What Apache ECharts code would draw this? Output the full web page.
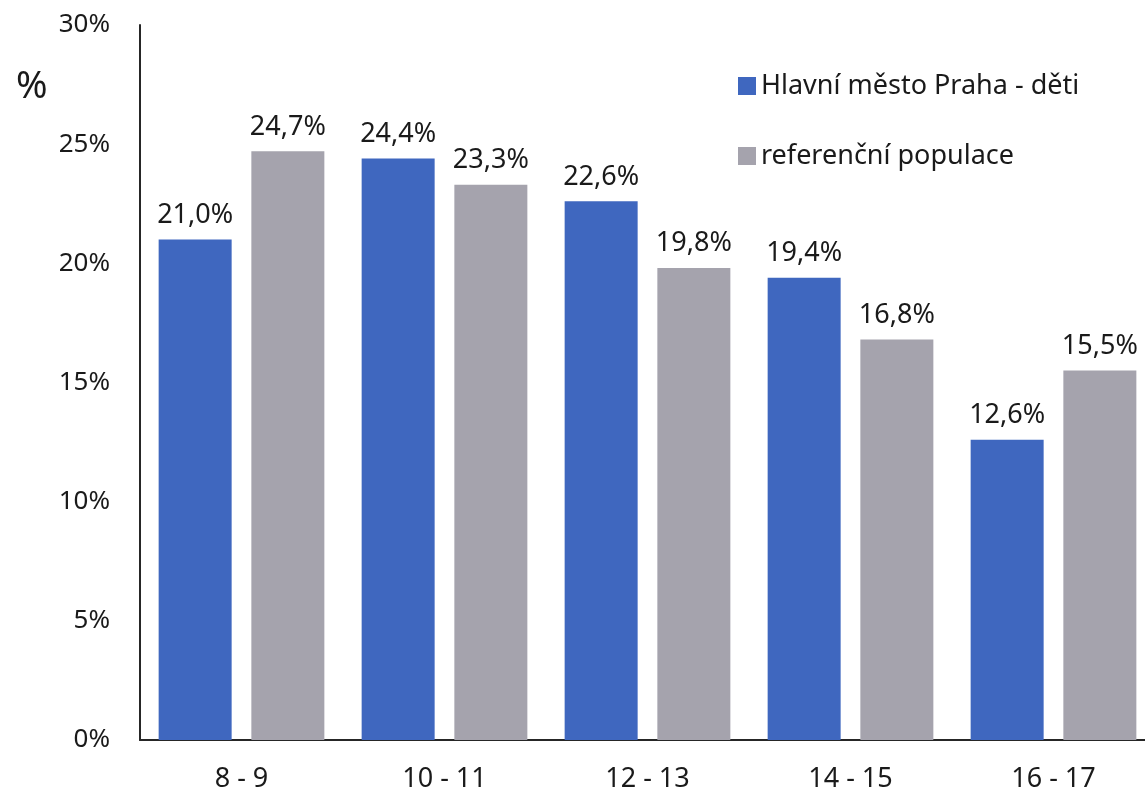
<!DOCTYPE html>
<html>
<head>
<meta charset="utf-8">
<script src="https://cdn.jsdelivr.net/npm/echarts@6/dist/echarts.min.js"></script>
<style>
  html, body { margin: 0; padding: 0; background: #fff; }
  #chart { width: 1145px; height: 794px; }
</style>
</head>
<body>
<div id="chart"></div>
<script>
// data
const categories = ['8 - 9', '10 - 11', '12 - 13', '14 - 15', '16 - 17'];
const prahaDeti = [21.0, 24.4, 22.6, 19.4, 12.6];
const referencni = [24.7, 23.3, 19.8, 16.8, 15.5];
const seriesNames = ['Hlavní město Praha - děti', 'referenční populace'];

const font = '"Noto Sans", "Open Sans", sans-serif';
const fmt = v => v.toFixed(1).replace('.', ',') + '%';

const myChart = echarts.init(document.getElementById('chart'));

const option = {
  animation: false,
  textStyle: { fontFamily: font },
  // plot is wider than the canvas, the last category is cut at the right edge
  grid: { left: 140, width: 1015, top: 25, bottom: 54, containLabel: false, outerBoundsMode: 'none' },
  graphic: [{
    type: 'text', left: 16, top: 68,
    style: { text: '%', fontSize: 38, fill: '#1a1a1a', fontFamily: font }
  }],
  legend: {
    orient: 'vertical',
    left: 733, top: 67,
    itemWidth: 18, itemHeight: 18, itemGap: 42,
    icon: 'rect',
    textStyle: { fontSize: 27, lineHeight: 28, color: '#1a1a1a', fontFamily: font },
    data: seriesNames
  },
  xAxis: {
    type: 'category',
    data: categories,
    axisLine: { lineStyle: { color: '#262626', width: 2 } },
    axisTick: { show: false },
    axisLabel: { fontSize: 27, color: '#1a1a1a', margin: 26 }
  },
  yAxis: {
    type: 'value',
    min: 0, max: 30, interval: 5,
    axisLine: { show: true, lineStyle: { color: '#262626', width: 2 } },
    axisTick: { show: false },
    splitLine: { show: false },
    axisLabel: { fontSize: 26, color: '#1a1a1a', margin: 30, formatter: '{value}%' }
  },
  series: [
    {
      name: seriesNames[0], type: 'bar', data: prahaDeti,
      barWidth: 73, barGap: '27%',
      itemStyle: { color: '#3F67BF' },
      label: { show: true, position: 'top', distance: 11, fontSize: 27, color: '#1a1a1a', formatter: p => fmt(p.value) }
    },
    {
      name: seriesNames[1], type: 'bar', data: referencni,
      barWidth: 73,
      itemStyle: { color: '#A5A3AD' },
      label: { show: true, position: 'top', distance: 11, fontSize: 27, color: '#1a1a1a', formatter: p => fmt(p.value) }
    }
  ]
};

myChart.setOption(option);
</script>
</body>
</html>
